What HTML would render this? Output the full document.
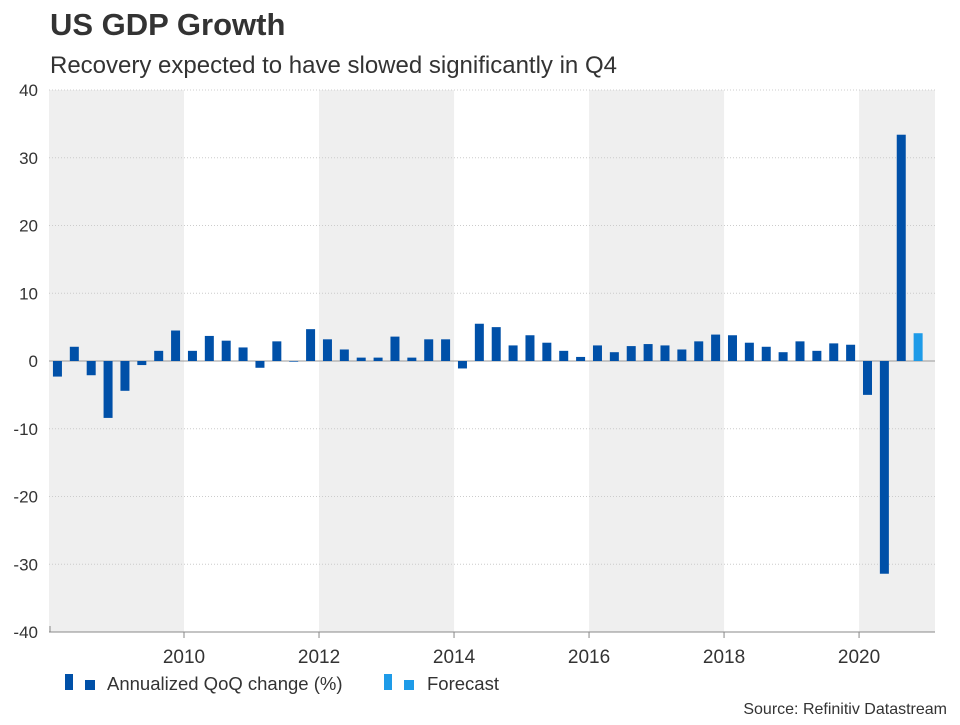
<!DOCTYPE html>
<html><head><meta charset="utf-8"><style>
body{margin:0;background:#fff;font-family:"Liberation Sans",Arial,sans-serif;}
svg text{font-family:"Liberation Sans",Arial,sans-serif;}
</style></head><body>
<svg id="c" width="960" height="720" xmlns="http://www.w3.org/2000/svg">
<text x="50" y="35" font-size="31" font-weight="bold" fill="#333">US GDP Growth</text>
<text x="50" y="73" font-size="24" fill="#333">Recovery expected to have slowed significantly in Q4</text>
<g id="bands"></g><g id="grid"></g><g id="bars"></g><g id="axes"></g>
<g>
<rect x="65" y="674" width="8" height="16" fill="#0050a8"/>
<rect x="85" y="680" width="10" height="10" fill="#0050a8"/>
<text x="107" y="690" font-size="18.5" fill="#333">Annualized QoQ change (%)</text>
<rect x="384" y="674" width="8" height="16" fill="#1e9be8"/>
<rect x="404" y="680" width="10" height="10" fill="#1e9be8"/>
<text x="427" y="690" font-size="18.5" fill="#333">Forecast</text>
</g>
<text x="947" y="714" font-size="16" fill="#333" text-anchor="end">Source: Refinitiv Datastream</text>
</svg>
<script>
const values = [-2.3,2.1,-2.1,-8.4, -4.4,-0.6,1.5,4.5, 1.5,3.7,3.0,2.0, -1.0,2.9,-0.1,4.7,
 3.2,1.7,0.5,0.5, 3.6,0.5,3.2,3.2, -1.1,5.5,5.0,2.3, 3.8,2.7,1.5,0.6,
 2.3,1.3,2.2,2.5, 2.3,1.7,2.9,3.9, 3.8,2.7,2.1,1.3, 2.9,1.5,2.6,2.4, -5.0,-31.4,33.4];
const forecast = [4.1];
const yTicks = [40,30,20,10,0,-10,-20,-30,-40];
const xTicks = [2010,2012,2014,2016,2018,2020];
const bandStarts = [2008,2012,2016,2020];
const NS='http://www.w3.org/2000/svg';
const L=49,R=935,T=90,B=632, x0=2008, x1=2021.125;
const xs=t=>L+(t-x0)/(x1-x0)*(R-L);
const ys=v=>T+(40-v)/80*(B-T);
function mk(tag,attrs,parent){const e=document.createElementNS(NS,tag);for(const k in attrs)e.setAttribute(k,attrs[k]);document.getElementById(parent).appendChild(e);return e;}
bandStarts.forEach(s=>{const e=mk('rect',{x:xs(s),y:T,width:xs(Math.min(s+2,x1))-xs(s),height:B-T,fill:'#efefef'},'bands');

});
yTicks.forEach(v=>{const l=mk('line',{x1:L,x2:R,y1:ys(v),y2:ys(v),stroke:v===0?'#999':'#ccc','stroke-dasharray':v===0?'':'1,2','stroke-width':1},'grid');


const t=mk('text',{x:38,y:ys(v)+6,'font-size':17,fill:'#333','text-anchor':'end'},'axes');t.textContent=v;

});
const bw=9;
function bar(i,v,col){const c=xs(x0+(i+0.5)/4);const e=mk('rect',{x:c-bw/2,y:Math.min(ys(v),ys(0)),width:bw,height:Math.abs(ys(v)-ys(0)),fill:col},'bars');

}
values.forEach((v,i)=>bar(i,v,'#0050a8'));
forecast.forEach((v,j)=>bar(values.length+j,v,'#1e9be8'));
const ax=mk('line',{x1:L,x2:R,y1:B,y2:B,stroke:'#888','stroke-width':1},'axes');


mk('line',{x1:L+1,x2:L+1,y1:B-6,y2:B,stroke:'#888'},'axes');
xTicks.forEach(y=>{const l=mk('line',{x1:xs(y),x2:xs(y),y1:B,y2:B+6,stroke:'#888'},'axes');


const t=mk('text',{x:xs(y),y:B+31,'font-size':19,fill:'#333','text-anchor':'middle'},'axes');t.textContent=y;

});
</script>
</body></html>
